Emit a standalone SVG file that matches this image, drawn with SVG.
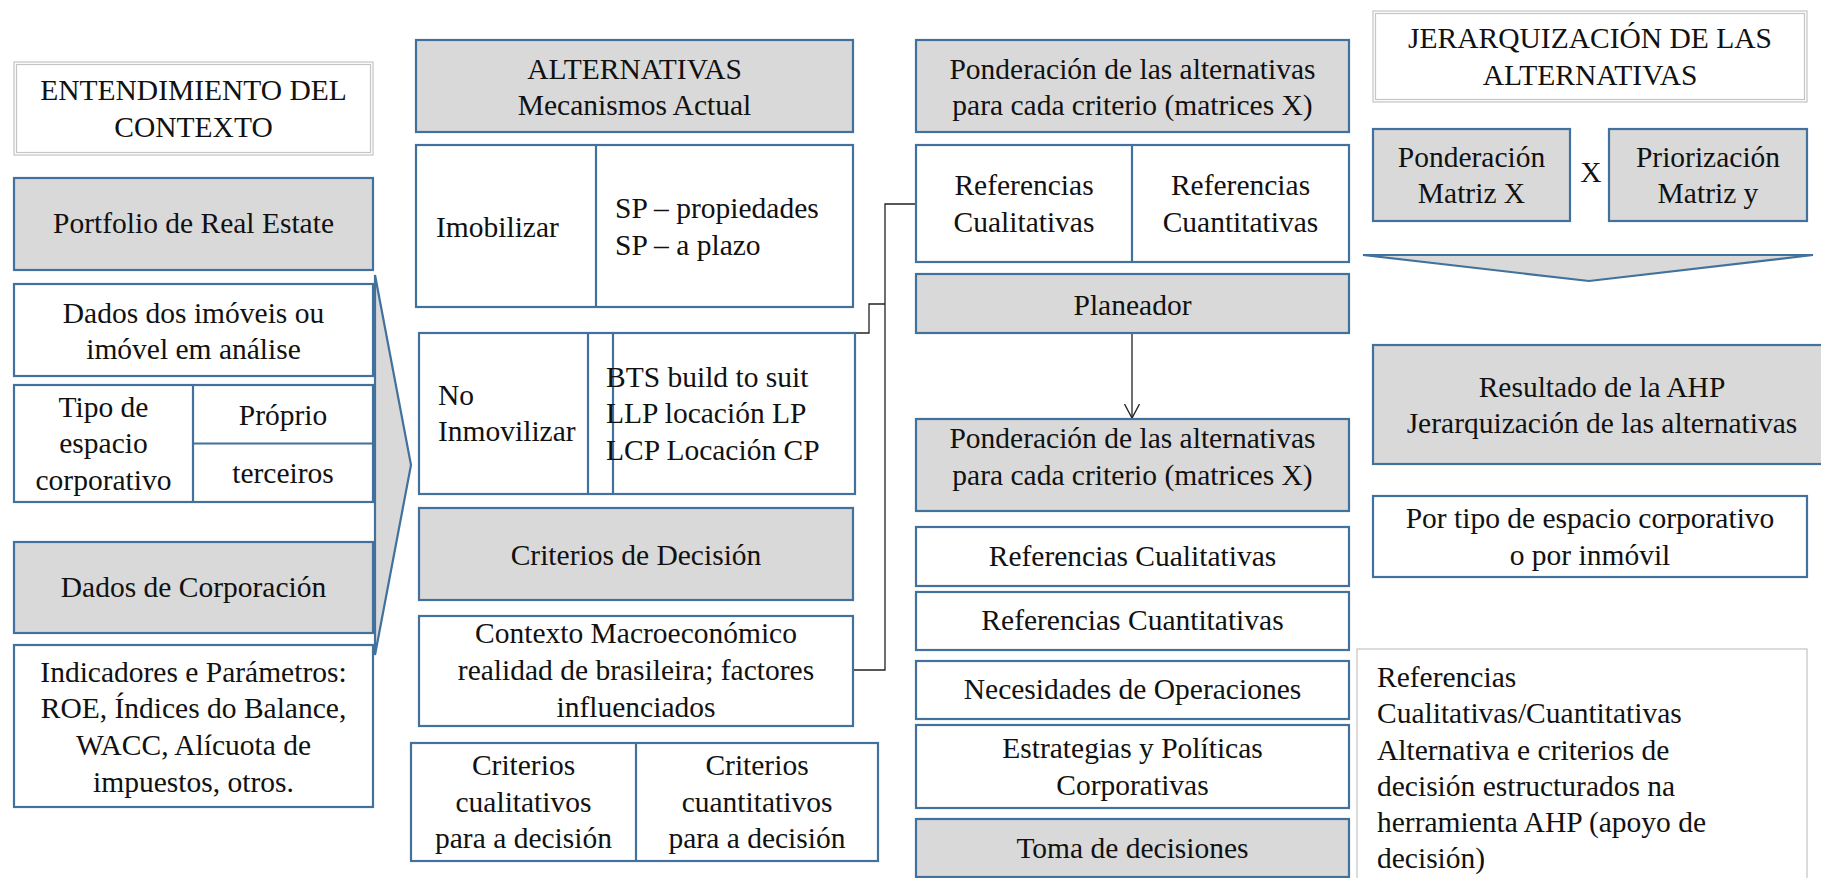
<svg xmlns="http://www.w3.org/2000/svg" width="1821" height="878" viewBox="0 0 1821 878" font-family="'Liberation Serif', 'DejaVu Serif', serif">
<style>
text{font-family:'Liberation Serif','DejaVu Serif',serif;font-size:29.5px;fill:#111}
.c{text-anchor:middle}
.b{stroke:#41719c;stroke-width:2.2;fill:#fff}
.g{stroke:#41719c;stroke-width:2.2;fill:#d9d9d9}
.t{stroke:#c4c4c4;stroke-width:1.2;fill:#fff}
.t2{stroke:#c4c4c4;stroke-width:1.2;fill:none}
.ln{stroke:#41719c;stroke-width:2.2;fill:none}
.cn{stroke:#222;stroke-width:1.3;fill:none}
</style>
<defs>
<marker id="v" markerWidth="20" markerHeight="16" refX="14" refY="8" orient="auto" markerUnits="userSpaceOnUse">
<path d="M0,0.5 L14,8 L0,15.5" fill="none" stroke="#222" stroke-width="1.3"/>
</marker>
</defs>
<rect width="1821" height="878" fill="#fff"/>

<g id="connectors">
<path class="cn" d="M917,204 H885 V670 H853"/>
<path class="cn" d="M855,333 H869 V304 H885"/>
<path class="cn" d="M1132,333 V418" marker-end="url(#v)"/>
</g>

<g id="entendimiento">
<rect class="t" x="14" y="62" width="359" height="93"/>
<rect class="t2" x="16.5" y="64.5" width="354" height="88"/>
<text class="c" x="193.5" y="100">ENTENDIMIENTO DEL</text>
<text class="c" x="193.5" y="137">CONTEXTO</text>
</g>
<g id="portfolio">
<rect class="g" x="14" y="178" width="359" height="92"/>
<text class="c" x="193.5" y="233">Portfolio de Real Estate</text>
</g>
<g id="dados-imoveis">
<rect class="b" x="14" y="284" width="359" height="92"/>
<text class="c" x="193.5" y="323">Dados dos imóveis ou</text>
<text class="c" x="193.5" y="359">imóvel em análise</text>
</g>
<g id="tipo-espacio">
<rect class="b" x="14" y="385" width="359" height="117"/>
<line class="ln" x1="193" y1="385" x2="193" y2="502"/>
<line class="ln" x1="193" y1="443.5" x2="373" y2="443.5"/>
<text class="c" x="103.5" y="417">Tipo de</text>
<text class="c" x="103.5" y="453">espacio</text>
<text class="c" x="103.5" y="490">corporativo</text>
<text class="c" x="283" y="425">Próprio</text>
<text class="c" x="283" y="483">terceiros</text>
</g>
<g id="dados-corporacion">
<rect class="g" x="14" y="542" width="359" height="91"/>
<text class="c" x="193.5" y="597">Dados de Corporación</text>
</g>
<g id="indicadores">
<rect class="b" x="14" y="645" width="359" height="162"/>
<text class="c" x="193.5" y="682">Indicadores e Parámetros:</text>
<text class="c" x="193.5" y="718">ROE, Índices do Balance,</text>
<text class="c" x="193.5" y="755">WACC, Alícuota de</text>
<text class="c" x="193.5" y="792">impuestos, otros.</text>
</g>
<g id="chevron-left">
<polygon class="g" points="375,275 411,465 375,655"/>
</g>

<g id="alternativas">
<rect class="g" x="416" y="40" width="437" height="92"/>
<text class="c" x="634.5" y="79">ALTERNATIVAS</text>
<text class="c" x="634.5" y="115">Mecanismos Actual</text>
</g>
<g id="imobilizar">
<rect class="b" x="416" y="145" width="437" height="162"/>
<line class="ln" x1="596" y1="145" x2="596" y2="307"/>
<text x="436" y="237">Imobilizar</text>
<text x="615" y="218">SP – propiedades</text>
<text x="615" y="255">SP – a plazo</text>
</g>
<g id="no-inmovilizar">
<rect class="b" x="419" y="333" width="436" height="161"/>
<line class="ln" x1="588" y1="333" x2="588" y2="494"/>
<line class="ln" x1="613" y1="333" x2="613" y2="494"/>
<text x="438" y="405">No</text>
<text x="438" y="441">Inmovilizar</text>
<text x="606" y="387">BTS build to suit</text>
<text x="606" y="423">LLP locación LP</text>
<text x="606" y="460">LCP Locación CP</text>
</g>
<g id="criterios-decision">
<rect class="g" x="419" y="508" width="434" height="92"/>
<text class="c" x="636" y="565">Criterios de Decisión</text>
</g>
<g id="contexto">
<rect class="b" x="419" y="616" width="434" height="110"/>
<text class="c" x="636" y="643">Contexto Macroeconómico</text>
<text class="c" x="636" y="680">realidad de brasileira;  factores</text>
<text class="c" x="636" y="717">influenciados</text>
</g>
<g id="criterios-tipos">
<rect class="b" x="411" y="743" width="467" height="118"/>
<line class="ln" x1="636" y1="743" x2="636" y2="861"/>
<text class="c" x="523.5" y="775">Criterios</text>
<text class="c" x="523.5" y="812">cualitativos</text>
<text class="c" x="523.5" y="848">para a decisión</text>
<text class="c" x="757" y="775">Criterios</text>
<text class="c" x="757" y="812">cuantitativos</text>
<text class="c" x="757" y="848">para a decisión</text>
</g>

<g id="ponderacion-1">
<rect class="g" x="916" y="40" width="433" height="92"/>
<text class="c" x="1132.5" y="79">Ponderación de las alternativas</text>
<text class="c" x="1132.5" y="115">para cada criterio (matrices X)</text>
</g>
<g id="referencias-1">
<rect class="b" x="916" y="145" width="433" height="117"/>
<line class="ln" x1="1132" y1="145" x2="1132" y2="262"/>
<text class="c" x="1024" y="195">Referencias</text>
<text class="c" x="1024" y="232">Cualitativas</text>
<text class="c" x="1240.5" y="195">Referencias</text>
<text class="c" x="1240.5" y="232">Cuantitativas</text>
</g>
<g id="planeador">
<rect class="g" x="916" y="274" width="433" height="59"/>
<text class="c" x="1132.5" y="315">Planeador</text>
</g>
<g id="ponderacion-2">
<rect class="g" x="916" y="419" width="433" height="92"/>
<text class="c" x="1132.5" y="448">Ponderación de las alternativas</text>
<text class="c" x="1132.5" y="485">para cada criterio (matrices X)</text>
</g>
<g id="ref-cualitativas">
<rect class="b" x="916" y="527" width="433" height="59"/>
<text class="c" x="1132.5" y="566">Referencias Cualitativas</text>
</g>
<g id="ref-cuantitativas">
<rect class="b" x="916" y="592" width="433" height="58"/>
<text class="c" x="1132.5" y="630">Referencias Cuantitativas</text>
</g>
<g id="necesidades">
<rect class="b" x="916" y="661" width="433" height="58"/>
<text class="c" x="1132.5" y="699">Necesidades de Operaciones</text>
</g>
<g id="estrategias">
<rect class="b" x="916" y="725" width="433" height="83"/>
<text class="c" x="1132.5" y="758">Estrategias y Políticas</text>
<text class="c" x="1132.5" y="795">Corporativas</text>
</g>
<g id="toma">
<rect class="g" x="916" y="819" width="433" height="58"/>
<text class="c" x="1132.5" y="858">Toma de decisiones</text>
</g>

<g id="jerarquizacion">
<rect class="t" x="1373" y="11" width="434" height="91"/>
<rect class="t2" x="1375.5" y="13.5" width="429" height="86"/>
<text class="c" x="1590" y="48">JERARQUIZACIÓN DE LAS</text>
<text class="c" x="1590" y="85">ALTERNATIVAS</text>
</g>
<g id="ponderacion-matriz">
<rect class="g" x="1373" y="129" width="197" height="92"/>
<text class="c" x="1471.5" y="167">Ponderación</text>
<text class="c" x="1471.5" y="203">Matriz X</text>
</g>
<g id="x-sign">
<text class="c" x="1591" y="182">X</text>
</g>
<g id="priorizacion-matriz">
<rect class="g" x="1609" y="129" width="198" height="92"/>
<text class="c" x="1708" y="167">Priorización</text>
<text class="c" x="1708" y="203">Matriz y</text>
</g>
<g id="chevron-down">
<polygon class="g" points="1363,255 1813,255 1589,281"/>
</g>
<g id="resultado">
<rect class="g" x="1373" y="345" width="460" height="119"/>
<text class="c" x="1602" y="397">Resultado de la AHP</text>
<text class="c" x="1602" y="433">Jerarquización de las alternativas</text>
</g>
<g id="por-tipo">
<rect class="b" x="1373" y="496" width="434" height="81"/>
<text class="c" x="1590" y="528">Por tipo de espacio corporativo</text>
<text class="c" x="1590" y="565">o por inmóvil</text>
</g>
<g id="nota">
<rect class="t" x="1357" y="649" width="450" height="240"/>
<text x="1377" y="687">Referencias</text>
<text x="1377" y="723">Cualitativas/Cuantitativas</text>
<text x="1377" y="760">Alternativa e criterios de</text>
<text x="1377" y="796">decisión estructurados na</text>
<text x="1377" y="832">herramienta AHP (apoyo de</text>
<text x="1377" y="868">decisión)</text>
</g>
</svg>
